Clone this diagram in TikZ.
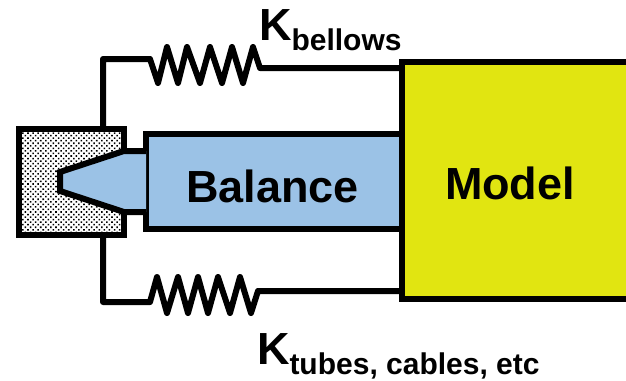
\documentclass[tikz,border=0pt]{standalone}
\usepackage{fontspec}
\setmainfont{Liberation Sans}
\usepackage{tikz}
\usetikzlibrary{patterns.meta,positioning}
\definecolor{balancebg}{RGB}{155,194,230}
\definecolor{modelbg}{RGB}{225,229,17}
\newcommand{\lblbig}{\fontsize{45}{50}\selectfont\bfseries}
\newcommand{\lblk}[1]{\fontsize{45}{50}\selectfont\bfseries K\raisebox{-10pt}{\fontsize{30}{33}\selectfont #1}}

\begin{document}
\begin{tikzpicture}[
  x=1pt, y=-1pt, line width=6pt,
  box/.style={draw=black, line join=miter, inner sep=0pt, outer sep=0pt, anchor=north west},
  wire/.style={draw=black, line width=6pt, line cap=round, line join=round},
  lbl/.style={inner sep=0pt, anchor=base west}]
  \useasboundingbox (0,0) rectangle (626,380);
  \node[box, pattern={Dots[distance=3.6pt, radius=1.1pt, angle=45]}, minimum width=105pt, minimum height=106pt] (block) at (19,129) {};
  \node[box, fill=balancebg, minimum width=256pt, minimum height=95pt] (balance) at (146,134) {};
  \node[box, fill=modelbg, minimum width=240pt, minimum height=237pt] (model) at (402,62) {};
  % tapered end sitting in the block
  \draw[fill=balancebg, line join=miter] (balance.north west |- 0,151) -- (124,151) -- (60,172) -- (60,191) -- (124,212) -- (balance.north west |- 0,212);
  % springs
  \coordinate (topfix) at (103,129);
  \coordinate (botfix) at (103,235);
  \draw[wire] (topfix) |- (150,59) -- (158,83) -- (167,47) -- (178,83) -- (187,47) -- (200,83) -- (210,47) -- (222,83) -- (232,47) -- (243,83) -- (253,47) -- (260,68) -- (model.west |- 0,68);
  \draw[wire] (botfix) |- (150,302) -- (157,277) -- (167,313) -- (178,277) -- (188,313) -- (198,277) -- (208,313) -- (218,277) -- (230,313) -- (240,277) -- (251,313) -- (258,291) -- (model.west |- 0,291);
  % labels
  \node[lbl] (balancetxt) at (183,202) {\lblbig Balance};
  \node[lbl] (modeltxt) at (442,199) {\lblbig Model};
  \node[lbl] (kbellows) at (256,40) {\lblk{bellows}};
  \node[lbl] (ktubes) at (254,364) {\lblk{tubes, cables, etc}};
\end{tikzpicture}
\end{document}
